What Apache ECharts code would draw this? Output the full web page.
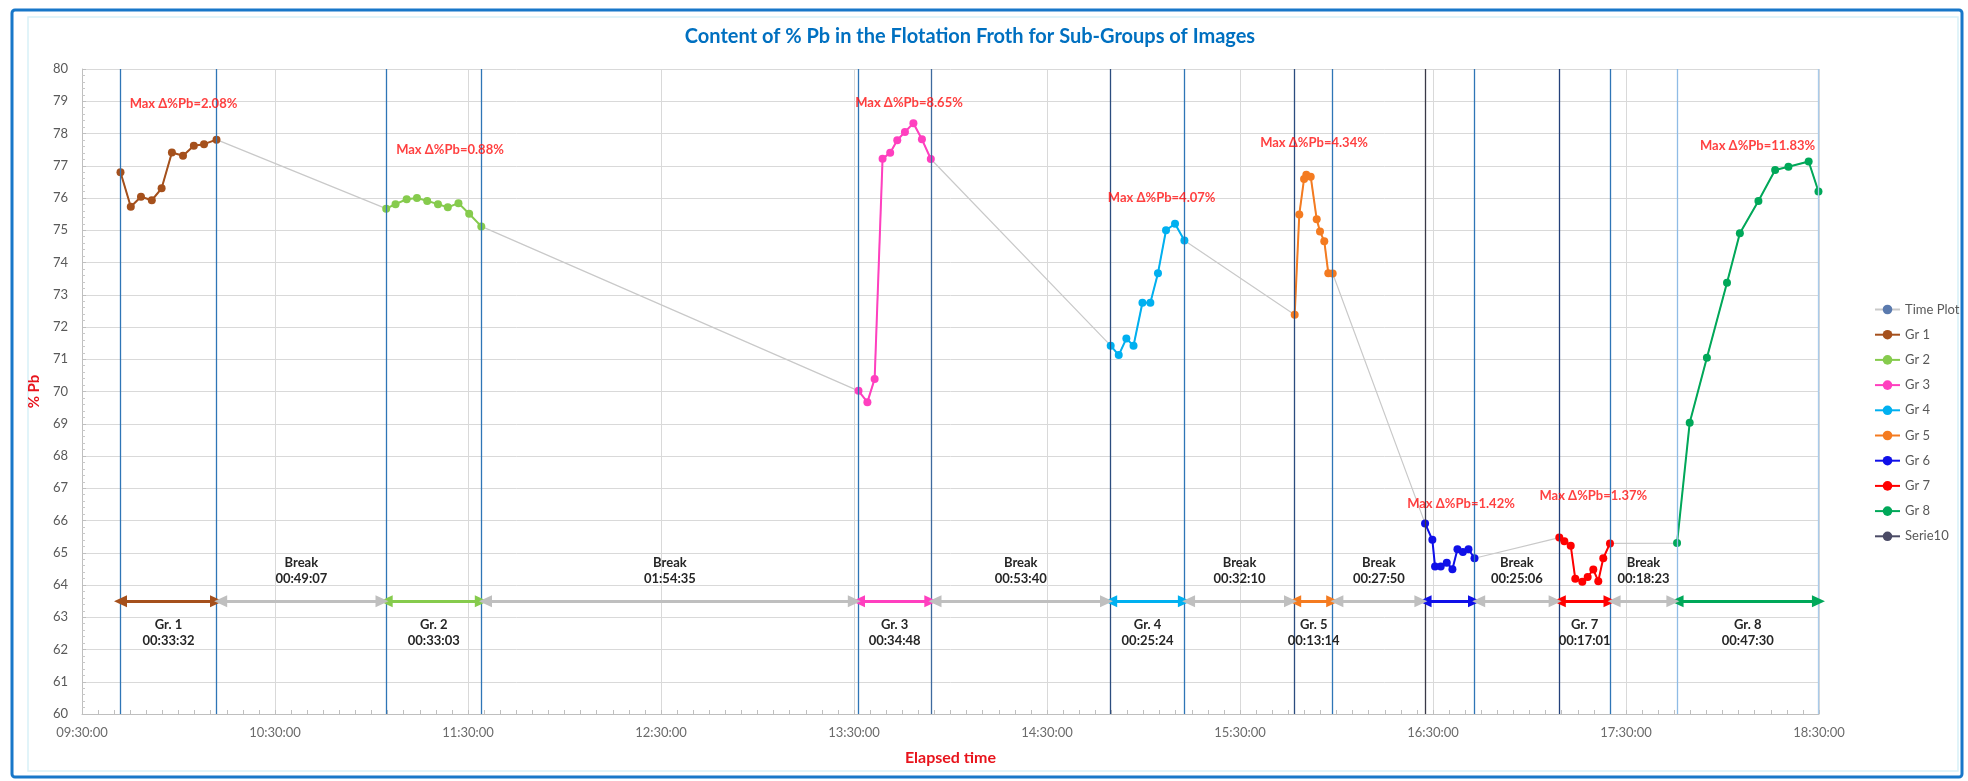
<!DOCTYPE html>
<html><head><meta charset="utf-8">
<script src="https://cdn.jsdelivr.net/npm/echarts@6/dist/echarts.min.js"></script>
<style>html,body{margin:0;padding:0;background:#fff}#c{width:1968px;height:781px}</style>
</head><body><div id="c"></div>
<script>
// ---------- DATA ----------
const xTickLabels = ['09:30:00','10:30:00','11:30:00','12:30:00','13:30:00','14:30:00','15:30:00','16:30:00','17:30:00','18:30:00'];
const yTickMin = 60, yTickMax = 80;

const groupNames = ['Gr 1','Gr 2','Gr 3','Gr 4','Gr 5','Gr 6','Gr 7','Gr 8'];

const gr1Times = ['09:41:58','09:45:10','09:48:20','09:51:42','09:54:45','09:57:57','10:01:24','10:04:46','10:07:56','10:11:49'];
const gr1Values = [76.80, 75.73, 76.04, 75.93, 76.30, 77.41, 77.31, 77.62, 77.67, 77.81];

const gr2Times = ['11:04:34','11:07:28','11:10:56','11:14:08','11:17:19','11:20:40','11:23:43','11:27:02','11:30:22','11:34:08'];
const gr2Values = [75.67, 75.81, 75.96, 76.00, 75.91, 75.81, 75.71, 75.84, 75.51, 75.12];

const gr3Times = ['13:31:24','13:34:10','13:36:25','13:38:53','13:41:15','13:43:27','13:45:50','13:48:28','13:51:07','13:53:53'];
const gr3Values = [70.02, 69.67, 70.39, 77.22, 77.40, 77.79, 78.05, 78.32, 77.82, 77.21];

const gr4Times = ['14:49:48','14:52:18','14:54:40','14:56:54','14:59:40','15:02:08','15:04:30','15:07:00','15:09:48','15:12:43'];
const gr4Values = [71.42, 71.13, 71.64, 71.42, 72.75, 72.75, 73.67, 75.00, 75.20, 74.68];

const gr5Times = ['15:47:00','15:48:26','15:49:55','15:50:37','15:51:59','15:53:51','15:54:52','15:56:12','15:57:27','15:58:49'];
const gr5Values = [72.38, 75.49, 76.59, 76.72, 76.66, 75.34, 74.96, 74.66, 73.67, 73.66];

const gr6Times = ['16:27:32','16:29:48','16:30:38','16:32:24','16:34:17','16:36:02','16:37:36','16:39:17','16:41:02','16:42:54'];
const gr6Values = [65.91, 65.40, 64.57, 64.57, 64.69, 64.49, 65.11, 65.02, 65.11, 64.83];

const gr7Times = ['17:09:16','17:10:50','17:12:49','17:14:14','17:16:25','17:18:05','17:19:50','17:21:23','17:22:56','17:25:01'];
const gr7Values = [65.47, 65.36, 65.22, 64.19, 64.10, 64.25, 64.48, 64.12, 64.83, 65.29];

const gr8Times = ['17:45:52','17:49:48','17:55:09','18:01:24','18:05:24','18:11:10','18:16:22','18:20:30','18:26:47','18:29:50'];
const gr8Values = [65.30, 69.03, 71.05, 73.37, 74.91, 75.91, 76.87, 76.97, 77.13, 76.20];

const groupLabels = ['Gr. 1\n00:33:32','Gr. 2\n00:33:03','Gr. 3\n00:34:48','Gr. 4\n00:25:24','Gr. 5\n00:13:14','','Gr. 7\n00:17:01','Gr. 8\n00:47:30'];
const breakLabels = ['Break\n00:49:07','Break\n01:54:35','Break\n00:53:40','Break\n00:32:10','Break\n00:27:50','Break\n00:25:06','Break\n00:18:23'];
const arrowLevel = 63.5;

const annoTexts = ['Max Δ%Pb=2.08%','Max Δ%Pb=0.88%','Max Δ%Pb=8.65%','Max Δ%Pb=4.07%','Max Δ%Pb=4.34%','Max Δ%Pb=1.42%','Max Δ%Pb=1.37%','Max Δ%Pb=11.83%'];
const annoTimes = ['10:01:33','11:24:24','13:47:06','15:05:38','15:53:00','16:38:42','17:19:50','18:10:54'];
const annoValues = [78.91, 77.49, 78.96, 76.02, 77.71, 66.53, 66.76, 77.61];

// ---------- STYLE ----------
const groupColors = ['#A5501C','#86CB4D','#FF3FBF','#00B0F0','#F47B20','#1010E8','#FF0000','#00A859'];
const vStartColors = ['#2E75B6','#2E75B6','#2E75B6','#2B4C7E','#2B4C7E','#3A3A48','#23407A','#8FBCE6'];
const vEndColors = ['#2E75B6','#2E75B6','#3E6A9E','#2E75B6','#2E75B6','#2E75B6','#2E75B6','#A9CBEA'];
const FONT = 'Lato, "Noto Sans", sans-serif';

// ---------- BUILD ----------
function absMin(s){const p=s.split(':').map(Number);return p[0]*60+p[1]+(p[2]||0)/60;}
const origin = absMin(xTickLabels[0]);
function toMin(s){return absMin(s)-origin;}

const groups = [[gr1Times,gr1Values],[gr2Times,gr2Values],[gr3Times,gr3Values],[gr4Times,gr4Values],
                [gr5Times,gr5Values],[gr6Times,gr6Values],[gr7Times,gr7Values],[gr8Times,gr8Values]];
const series = [];
const allPts = [];
groups.forEach(g=>g[0].forEach((t,i)=>allPts.push([toMin(t), g[1][i]])));

series.push({name:'Time Plot', type:'line', data:allPts, symbol:'circle', symbolSize:4, z:1,
  itemStyle:{color:'#5A7AAE'}, lineStyle:{color:'#C9C9C9', width:1.2}, animation:false});

const spans = [];
groups.forEach((g,i)=>{
  const d = g[0].map((t,j)=>[toMin(t), g[1][j]]);
  const t0 = d[0][0], t1 = d[d.length-1][0];
  spans.push([t0,t1]);
  const lbl = groupLabels[i];
  series.push({
    name:groupNames[i], type:'line', data:d, symbol:'circle', symbolSize:8, z:3, animation:false,
    itemStyle:{color:groupColors[i]}, lineStyle:{color:groupColors[i], width:2},
    markLine:{silent:true, animation:false, symbol:['none','none'], label:{show:false},
      data:[
        {xAxis:t0, lineStyle:{color:vStartColors[i], width:1.3, type:'solid'}},
        {xAxis:t1, lineStyle:{color:vEndColors[i], width:1.3, type:'solid'}},
        [{coord:[t0, arrowLevel], symbol:'triangle', symbolSize:[12,13],
          lineStyle:{color:groupColors[i], width:3, type:'solid'},
          label:{show:!!lbl, position:'insideMiddleBottom', distance:16, formatter:lbl,
            color:'#262626', fontWeight:'bold', fontSize:13, lineHeight:16, fontFamily:FONT}},
         {coord:[t1, arrowLevel], symbol:'triangle', symbolSize:[12,13]}]
      ]}
  });
});

const gap = 1.3;
const breakData = breakLabels.map((b,i)=>[
  {coord:[spans[i][1]+gap, arrowLevel], label:{formatter:b}},
  {coord:[spans[i+1][0]-gap, arrowLevel]}
]);
series.push({name:'breaks', type:'line', data:[], animation:false,
  markLine:{silent:true, animation:false, symbol:['triangle','triangle'], symbolSize:[12,13],
    lineStyle:{color:'#BFBFBF', width:3, type:'solid'},
    label:{show:true, position:'insideMiddleTop', distance:14, color:'#262626', fontWeight:'bold',
      fontSize:13, lineHeight:16, fontFamily:FONT},
    data:breakData}});

series.push({name:'Serie10', type:'line', data:[], symbol:'circle', itemStyle:{color:'#4B4B66'}, lineStyle:{color:'#4B4B66', width:2}});

series.push({name:'annotations', type:'scatter', symbolSize:1, itemStyle:{color:'rgba(0,0,0,0)'}, z:5, animation:false, silent:true,
  data:annoTexts.map((t,i)=>({name:t, value:[toMin(annoTimes[i]), annoValues[i]]})),
  label:{show:true, position:'inside', formatter:'{a|{b}}',
    rich:{a:{color:'#FF1010', fontWeight:'bold', fontSize:13, fontFamily:FONT}}}});

const chart = echarts.init(document.getElementById('c'), null, {renderer:'canvas'});
chart.setOption({
  backgroundColor:'#ffffff',
  textStyle:{fontFamily:FONT},
  animation:false,
  grid:{left:82, top:69, width:1737, height:645, containLabel:false},
  legend:{data:['Time Plot'].concat(groupNames).concat(['Serie10']), orient:'vertical', left:1869, top:298,
    itemWidth:25, itemHeight:12, itemGap:12.2, textStyle:{color:'#595959', fontSize:13, lineHeight:13, fontFamily:FONT}},
  xAxis:{type:'value', min:0, max:540, interval:60,
    name:'Elapsed time', nameLocation:'middle', nameGap:36,
    nameTextStyle:{color:'#E8141C', fontWeight:'bold', fontSize:16, fontFamily:FONT},
    axisLine:{lineStyle:{color:'#BFBFBF'}},
    axisTick:{show:true, inside:true, length:4, lineStyle:{color:'#BFBFBF'}},
    minorTick:{show:true, splitNumber:12, length:4, lineStyle:{color:'#BFBFBF'}},
    axisLabel:{color:'#6B6B6B', fontSize:13, margin:12, formatter:(v)=>xTickLabels[Math.round(v/60)]||''},
    splitLine:{show:true, lineStyle:{color:'#D9D9D9'}}},
  yAxis:{type:'value', min:yTickMin, max:yTickMax, interval:1,
    name:'% Pb', nameLocation:'middle', nameGap:35, nameRotate:90,
    nameTextStyle:{color:'#E8141C', fontWeight:'bold', fontSize:15, fontFamily:FONT},
    axisLine:{show:true, lineStyle:{color:'#BFBFBF'}},
    axisTick:{show:true, inside:true, length:4, lineStyle:{color:'#BFBFBF'}},
    minorTick:{show:true, splitNumber:5, length:3, lineStyle:{color:'#C8C8C8'}},
    axisLabel:{color:'#595959', fontSize:13, margin:14},
    splitLine:{show:true, lineStyle:{color:'#D9D9D9'}}},
  graphic:[
    {type:'rect', silent:true, shape:{x:28, y:17, width:1930, height:754}, style:{fill:'none', stroke:'#D8F1F8', lineWidth:1.5}},
    {type:'rect', silent:true, shape:{x:12, y:10, width:1950, height:767, r:3}, style:{fill:'none', stroke:'#1877C9', lineWidth:3}},
    {type:'text', silent:true, x:970, y:37, style:{text:'Content of % Pb in the Flotation Froth for Sub-Groups of Images',
      fill:'#0070C0', font:'bold 20px '+FONT, textAlign:'center', textVerticalAlign:'middle', align:'center', verticalAlign:'middle'}}
  ],
  series:series
});
</script></body></html>
